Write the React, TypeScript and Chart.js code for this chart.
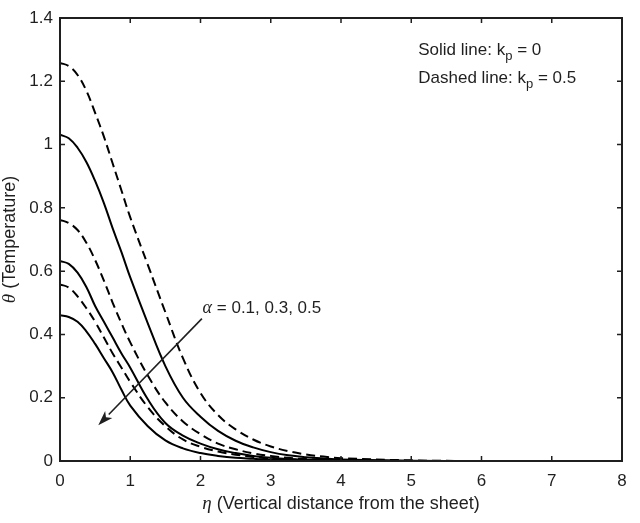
import { useEffect, useRef } from "react";
import { Chart, Plugin, registerables } from "chart.js";

Chart.register(...registerables);

const etaValues = [
  0, 0.125, 0.25, 0.375, 0.5, 0.625, 0.75, 0.875, 1,
  1.25, 1.5, 1.75, 2, 2.25, 2.5, 2.75, 3, 3.25, 3.5, 3.75, 4,
  5, 6, 7, 8,
];

// solid lines: kp = 0
const solidAlpha01 = [
  1.031, 1.02, 0.99, 0.945, 0.885, 0.815, 0.735, 0.66, 0.58,
  0.435, 0.3, 0.2, 0.14, 0.095, 0.064, 0.043, 0.028, 0.018, 0.012, 0.008, 0.005,
  0.001, 0, 0, 0,
];
const solidAlpha03 = [
  0.632, 0.623, 0.595, 0.55, 0.49, 0.44, 0.39, 0.34, 0.295,
  0.195, 0.12, 0.08, 0.055, 0.037, 0.025, 0.016, 0.01, 0.006, 0.004, 0.003, 0.002,
  0, 0, 0, 0,
];
const solidAlpha05 = [
  0.461, 0.455, 0.44, 0.41, 0.37, 0.325, 0.28, 0.225, 0.175,
  0.11, 0.065, 0.04, 0.025, 0.016, 0.01, 0.007, 0.004, 0.003, 0.002, 0.001, 0.001,
  0, 0, 0, 0,
];

// dashed lines: kp = 0.5
const dashedAlpha01 = [
  1.258, 1.248, 1.22, 1.17, 1.1, 1.025, 0.94, 0.855, 0.77,
  0.62, 0.47, 0.325, 0.215, 0.145, 0.1, 0.068, 0.046, 0.031, 0.021, 0.014, 0.009,
  0.002, 0, 0, 0,
];
const dashedAlpha03 = [
  0.762, 0.752, 0.73, 0.69, 0.635, 0.57, 0.5, 0.435, 0.375,
  0.27, 0.185, 0.125, 0.085, 0.055, 0.037, 0.024, 0.016, 0.01, 0.006, 0.004, 0.002,
  0, 0, 0, 0,
];
const dashedAlpha05 = [
  0.558, 0.548, 0.52, 0.483, 0.44, 0.39, 0.34, 0.295, 0.25,
  0.17, 0.11, 0.068, 0.045, 0.03, 0.02, 0.013, 0.008, 0.005, 0.003, 0.002, 0.001,
  0, 0, 0, 0,
];

const xTicks = [0, 1, 2, 3, 4, 5, 6, 7, 8];
const yTicks = [0, 0.2, 0.4, 0.6, 0.8, 1, 1.2, 1.4];

const INK = "#1f1f1f";
const SANS = '"Liberation Sans", Arial, sans-serif';
const SERIF = '"Liberation Serif", "Times New Roman", serif';

type Run = { text: string; font: string; dy?: number };

function drawRuns(ctx: CanvasRenderingContext2D, runs: Run[], x: number, y: number, center = false) {
  const widths = runs.map((r) => {
    ctx.font = r.font;
    return ctx.measureText(r.text).width;
  });
  const total = widths.reduce((a, b) => a + b, 0);
  let cx = center ? x - total / 2 : x;
  ctx.textAlign = "left";
  ctx.textBaseline = "alphabetic";
  runs.forEach((r, i) => {
    ctx.font = r.font;
    ctx.fillText(r.text, cx, y + (r.dy || 0));
    cx += widths[i];
  });
}

const frameAndNotes: Plugin<"line"> = {
  id: "frameAndNotes",
  afterDraw(chart) {
    const { ctx, chartArea: a, scales } = chart;
    const xs = scales.x;
    const ys = scales.y;
    ctx.save();
    ctx.strokeStyle = INK;
    ctx.fillStyle = INK;

    // box
    ctx.lineWidth = 2;
    ctx.strokeRect(a.left, a.top, a.right - a.left, a.bottom - a.top);

    // inward ticks on all four sides
    ctx.lineWidth = 1.5;
    ctx.beginPath();
    xTicks.forEach((v) => {
      const px = xs.getPixelForValue(v);
      ctx.moveTo(px, a.bottom);
      ctx.lineTo(px, a.bottom - 5);
      ctx.moveTo(px, a.top);
      ctx.lineTo(px, a.top + 5);
    });
    yTicks.forEach((v) => {
      const py = ys.getPixelForValue(v);
      ctx.moveTo(a.left, py);
      ctx.lineTo(a.left + 5, py);
      ctx.moveTo(a.right, py);
      ctx.lineTo(a.right - 5, py);
    });
    ctx.stroke();

    // alpha arrow
    const x0 = xs.getPixelForValue(2.02);
    const y0 = ys.getPixelForValue(0.45);
    const x1 = xs.getPixelForValue(0.545);
    const y1 = ys.getPixelForValue(0.113);
    const ang = Math.atan2(y1 - y0, x1 - x0);
    const headLen = 15;
    const headHalf = 5;
    const bx = x1 - headLen * Math.cos(ang);
    const by = y1 - headLen * Math.sin(ang);
    ctx.lineWidth = 1.6;
    ctx.beginPath();
    ctx.moveTo(x0, y0);
    ctx.lineTo(bx, by);
    ctx.stroke();
    ctx.beginPath();
    ctx.moveTo(x1, y1);
    ctx.lineTo(bx + headHalf * Math.sin(ang), by - headHalf * Math.cos(ang));
    ctx.lineTo(bx + 4 * Math.cos(ang), by + 4 * Math.sin(ang));
    ctx.lineTo(bx - headHalf * Math.sin(ang), by + headHalf * Math.cos(ang));
    ctx.closePath();
    ctx.fill();

    drawRuns(
      ctx,
      [
        { text: "α", font: `italic 18px ${SERIF}` },
        { text: " = 0.1, 0.3, 0.5", font: `17px ${SANS}` },
      ],
      xs.getPixelForValue(2.03),
      ys.getPixelForValue(0.467)
    );

    // line style notes
    const nx = xs.getPixelForValue(5.1);
    drawRuns(
      ctx,
      [
        { text: "Solid line: k", font: `17px ${SANS}` },
        { text: "p", font: `13px ${SANS}`, dy: 5 },
        { text: " = 0", font: `17px ${SANS}` },
      ],
      nx,
      ys.getPixelForValue(1.284)
    );
    drawRuns(
      ctx,
      [
        { text: "Dashed line: k", font: `17px ${SANS}` },
        { text: "p", font: `13px ${SANS}`, dy: 5 },
        { text: " = 0.5", font: `17px ${SANS}` },
      ],
      nx,
      ys.getPixelForValue(1.195)
    );

    // axis titles
    drawRuns(
      ctx,
      [
        { text: "η", font: `italic 19px ${SERIF}` },
        { text: " (Vertical distance from the sheet)", font: `18px ${SANS}` },
      ],
      (a.left + a.right) / 2,
      509,
      true
    );
    ctx.translate(15, (a.top + a.bottom) / 2);
    ctx.rotate(-Math.PI / 2);
    drawRuns(
      ctx,
      [
        { text: "θ", font: `italic 19px ${SERIF}` },
        { text: " (Temperature)", font: `18px ${SANS}` },
      ],
      0,
      0,
      true
    );
    ctx.restore();
  },
};

function series(label: string, values: number[], dashed: boolean) {
  return {
    label,
    data: etaValues.map((x, i) => ({ x, y: values[i] })),
    borderColor: "#000000",
    borderWidth: 2,
    borderDash: dashed ? [9, 5] : [],
    pointRadius: 0,
    fill: false,
    tension: 0.4,
  };
}

export default function App() {
  const chartRef = useRef<HTMLCanvasElement>(null);
  const chartInstance = useRef<Chart | null>(null);

  useEffect(() => {
    document.body.style.margin = "0";
    if (!chartRef.current) return;
    if (chartInstance.current) chartInstance.current.destroy();
    const ctx = chartRef.current.getContext("2d");
    if (!ctx) return;

    chartInstance.current = new Chart(ctx, {
      type: "line",
      data: {
        datasets: [
          series("α = 0.1, kp = 0", solidAlpha01, false),
          series("α = 0.3, kp = 0", solidAlpha03, false),
          series("α = 0.5, kp = 0", solidAlpha05, false),
          series("α = 0.1, kp = 0.5", dashedAlpha01, true),
          series("α = 0.3, kp = 0.5", dashedAlpha03, true),
          series("α = 0.5, kp = 0.5", dashedAlpha05, true),
        ],
      },
      options: {
        responsive: false,
        animation: false,
        devicePixelRatio: 1,
        layout: { padding: { top: 18, right: 18, left: 0, bottom: 0 } },
        plugins: {
          legend: { display: false },
          tooltip: { enabled: false },
        },
        scales: {
          x: {
            type: "linear",
            min: 0,
            max: 8,
            grid: { display: false, drawTicks: false },
            border: { display: false },
            ticks: {
              stepSize: 1,
              padding: 10,
              color: INK,
              font: { family: SANS, size: 17 },
            },
            afterFit: (scale) => {
              scale.height = 62;
            },
          },
          y: {
            type: "linear",
            min: 0,
            max: 1.4,
            grid: { display: false, drawTicks: false },
            border: { display: false },
            ticks: {
              stepSize: 0.2,
              padding: 7,
              color: INK,
              font: { family: SANS, size: 17 },
              callback: (value) => String(Number(Number(value).toFixed(1))),
            },
            afterFit: (scale) => {
              scale.width = 60;
            },
          },
        },
      },
      plugins: [frameAndNotes],
    });

    return () => {
      if (chartInstance.current) {
        chartInstance.current.destroy();
        chartInstance.current = null;
      }
    };
  }, []);

  return (
    <div style={{ width: 640, height: 523, background: "#ffffff" }}>
      <canvas ref={chartRef} width={640} height={523} style={{ display: "block" }}></canvas>
    </div>
  );
}
